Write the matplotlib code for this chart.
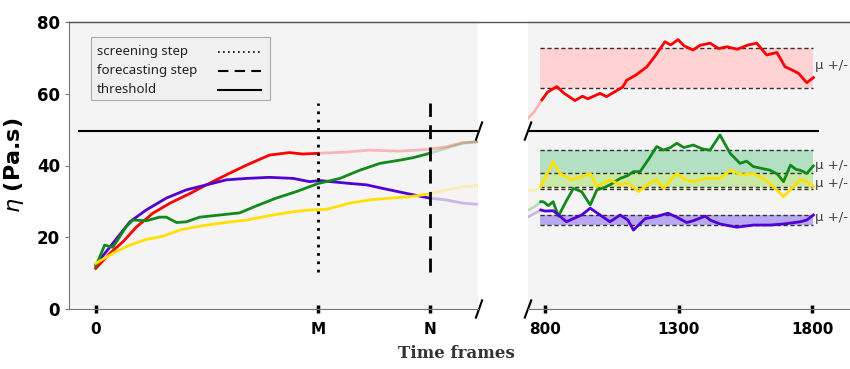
import matplotlib.pyplot as plt
from matplotlib.lines import Line2D
from matplotlib.patches import Rectangle

# left part: time frames (M=300, N=450)
M, N = 300, 450
red_x = [0, 19, 37, 55, 77, 100, 127, 149, 176, 203, 234, 261, 279, 300]
red_y = [11.3, 15.5, 18.8, 22.9, 26.7, 29.5, 32.2, 34.6, 37.4, 40.1, 42.9, 43.6, 43.2, 43.4]
red_fx = [300, 342, 369, 410, 448, 472, 495, 513]
red_fy = [43.4, 43.8, 44.3, 44.0, 44.5, 45.2, 46.4, 46.6]

blue_x = [0, 23, 46, 68, 95, 122, 149, 176, 203, 234, 266, 288, 302, 342, 365, 387, 419, 450]
blue_y = [12.3, 18.3, 24.3, 27.6, 30.9, 33.2, 34.6, 36.0, 36.4, 36.7, 36.4, 35.5, 35.8, 35.0, 34.6, 33.6, 32.2, 30.9]
blue_fx = [450, 472, 495, 513]
blue_fy = [30.9, 30.4, 29.5, 29.2]

green_x = [0, 12, 23, 41, 50, 68, 86, 95, 109, 122, 140, 167, 194, 216, 243, 270, 300,
           329, 356, 383, 410, 428, 450]
green_y = [11.8, 17.8, 17.2, 22.9, 24.8, 24.6, 25.6, 25.6, 24.1, 24.3, 25.6, 26.2, 26.8, 28.7,
           30.9, 32.7, 35.0, 36.4, 38.7, 40.6, 41.5, 42.2, 43.4]
green_fx = [450, 472, 495, 513]
green_fy = [43.4, 44.8, 46.2, 46.6]

yellow_x = [0, 23, 46, 68, 91, 113, 140, 167, 203, 239, 266, 288, 311, 342, 369, 396, 423, 450]
yellow_y = [12.7, 15.5, 17.8, 19.4, 20.3, 22.0, 23.1, 23.9, 24.8, 26.2, 27.1, 27.6, 27.8, 29.5,
            30.4, 30.9, 31.3, 32.1]
yellow_fx = [450, 472, 495, 513]
yellow_fy = [32.1, 33.2, 34.1, 34.4]

# right part: frames 800..1800
r_red_x = [788, 810, 844, 870, 912, 940, 960, 1006, 1030, 1069, 1090, 1106, 1140, 1181, 1210,
           1249, 1270, 1298, 1320, 1354, 1380, 1418, 1450, 1481, 1520, 1560, 1593, 1630, 1668,
           1699, 1720, 1749, 1780, 1805]
r_red_y = [58.3, 60.5, 62.0, 60.2, 58.1, 59.3, 58.6, 60.1, 59.2, 60.9, 61.8, 63.8, 65.2, 67.5,
           70.3, 74.5, 73.6, 75.1, 73.4, 72.2, 73.5, 74.1, 72.6, 73.1, 72.4, 73.6, 74.1, 70.8,
           71.5, 67.5, 66.8, 65.7, 63.1, 64.5]
r_red_fx = [736, 760, 788]
r_red_fy = [53.2, 55.0, 58.3]

r_green_x = [784, 794, 812, 830, 850, 880, 906, 937, 969, 994, 1020, 1043, 1081, 1110, 1131,
             1156, 1190, 1218, 1243, 1270, 1293, 1320, 1355, 1390, 1418, 1455, 1493, 1530,
             1555, 1580, 1610, 1642, 1670, 1693, 1719, 1740, 1755, 1780, 1805]
r_green_y = [29.9, 29.9, 28.8, 29.9, 25.9, 30.2, 33.6, 32.7, 29.0, 33.2, 33.8, 34.6, 36.4,
             37.2, 38.3, 38.3, 42.0, 45.3, 44.3, 45.0, 46.2, 45.0, 45.7, 44.6, 44.3, 48.5,
             43.4, 40.6, 41.2, 39.7, 39.2, 38.7, 37.6, 35.5, 40.1, 38.9, 38.7, 37.8, 39.9]
r_green_fx = [737, 760, 784]
r_green_fy = [27.6, 28.5, 29.9]

r_yellow_x = [784, 808, 830, 855, 900, 940, 969, 994, 1043, 1081, 1110, 1150, 1190, 1218,
              1243, 1270, 1293, 1320, 1355, 1400, 1455, 1493, 1540, 1580, 1620, 1642, 1670,
              1693, 1730, 1755, 1780, 1805]
r_yellow_y = [34.1, 37.8, 41.1, 37.8, 36.0, 37.0, 37.8, 34.1, 36.0, 34.6, 35.2, 32.7, 35.0,
              36.0, 33.6, 36.0, 37.8, 36.2, 35.5, 36.4, 36.4, 38.7, 37.4, 37.8, 36.2, 35.0,
              33.0, 31.3, 34.1, 36.0, 35.5, 34.1]
r_yellow_fx = [737, 760, 784]
r_yellow_fy = [33.2, 33.0, 34.1]

r_blue_x = [784, 800, 830, 850, 880, 906, 937, 969, 1010, 1043, 1081, 1110, 1131, 1175,
            1218, 1260, 1293, 1330, 1355, 1400, 1418, 1455, 1490, 1518, 1580, 1642, 1693,
            1755, 1780, 1805]
r_blue_y = [27.6, 27.3, 27.4, 26.2, 24.3, 25.2, 26.2, 28.1, 26.0, 24.3, 26.2, 24.8, 22.0,
            25.2, 25.8, 26.7, 25.6, 24.1, 24.6, 25.9, 24.8, 23.7, 23.2, 22.8, 23.4, 23.4,
            23.7, 24.3, 24.8, 26.2]
r_blue_fx = [737, 760, 784]
r_blue_fy = [25.7, 26.6, 27.6]

# mean +/- std bands (low, high)
bands = {'red': (61.5, 72.8), 'green': (34.1, 44.3), 'yellow': (33.4, 37.8), 'blue': (23.4, 26.2)}
label_y = {'red': 68.0, 'green': 40.1, 'yellow': 35.1, 'blue': 25.4}
threshold = 49.6
legend_labels = ['screening step', 'forecasting step', 'threshold']

colors = {'red': '#ff0000', 'green': '#12891b', 'yellow': '#ffe000', 'blue': '#5200d4'}
band_colors = {'red': ('#ffd3d3', 1), 'green': ('#b3e0c3', 1), 'yellow': ('#ffff64', 0.3),
               'blue': ('#b8a8f4', 1)}

fig = plt.figure(figsize=(8.5, 3.69), dpi=100)
bg = '#f4f4f4'
ax1 = fig.add_axes([69 / 850, 60 / 369, 409 / 850, 287 / 369], facecolor=bg)
ax2 = fig.add_axes([528 / 850, 60 / 369, 322 / 850, 287 / 369], facecolor=bg)

lw = 2
ax1.plot(red_x, red_y, color=colors['red'], lw=lw)
ax1.plot(red_fx, red_fy, color=colors['red'], lw=lw, alpha=0.25)
ax1.plot(blue_x, blue_y, color=colors['blue'], lw=lw)
ax1.plot(blue_fx, blue_fy, color=colors['blue'], lw=lw, alpha=0.25)
ax1.plot(green_x, green_y, color=colors['green'], lw=lw)
ax1.plot(green_fx, green_fy, color=colors['green'], lw=lw, alpha=0.25)
ax1.plot(yellow_x, yellow_y, color=colors['yellow'], lw=lw)
ax1.plot(yellow_fx, yellow_fy, color=colors['yellow'], lw=lw, alpha=0.25)

ax1.plot([-22, 515], [threshold, threshold], color='black', lw=1.5)
ax1.vlines(M, 10.3, 57.4, colors='black', linestyles=(0, (1, 2)), lw=2)
ax1.vlines(N, 10.3, 57.4, colors='black', linestyles=(0, (5, 3)), lw=2)

ax1.set_xlim(-36, 515)
ax1.set_ylim(0, 80)
ax1.set_xticks([0, M, N], ['0', 'M', 'N'])
ax1.set_yticks([0, 20, 40, 60, 80])

# legend drawn by hand: text left, line sample right
ax1.add_patch(Rectangle((0.054, 0.728), 0.437, 0.22, transform=ax1.transAxes,
                        facecolor='#f0f0f0', edgecolor='#aaaaaa', lw=0.8, zorder=5))
styles = [(0, (1, 2)), (0, (5, 3)), '-']
for i, (lab, ls) in enumerate(zip(legend_labels, styles)):
    yy = 0.8955 - i * 0.0662
    ax1.text(0.0685, yy, lab, transform=ax1.transAxes, fontsize=9.5, family='Noto Sans',
             color='#222222', va='center', ha='left', zorder=6)
    ax1.plot([0.364, 0.469], [yy, yy], transform=ax1.transAxes, color='black', ls=ls,
             lw=1.5 if ls != styles[0] else 1.2, zorder=6)

# right panel
for name, xs, ys, fxs, fys in [('red', r_red_x, r_red_y, r_red_fx, r_red_fy),
                               ('green', r_green_x, r_green_y, r_green_fx, r_green_fy),
                               ('yellow', r_yellow_x, r_yellow_y, r_yellow_fx, r_yellow_fy),
                               ('blue', r_blue_x, r_blue_y, r_blue_fx, r_blue_fy)]:
    lo, hi = bands[name]
    fc, fa = band_colors[name]
    ax2.fill_between([781, 1802], lo, hi, color=fc, alpha=fa, lw=0)
    ax2.hlines([lo, hi], 781, 1802, colors='#333333', linestyles=(0, (3, 2)), lw=1, zorder=3)
    ax2.plot(fxs, fys, color=colors[name], lw=lw, alpha=0.25, zorder=4)
    ax2.plot(xs, ys, color=colors[name], lw=lw, zorder=4)
    ax2.text(1810, label_y[name], 'μ +/- σ', fontsize=9.5, color='#444444', va='center',
             clip_on=False)

ax2.plot([742, 1822], [threshold, threshold], color='black', lw=1.5)
ax2.set_xlim(736, 1942)
ax2.set_ylim(0, 80)
ax2.set_xticks([800, 1300, 1800])
ax2.set_yticks([])

for ax in (ax1, ax2):
    ax.spines['right'].set_visible(False)
    ax.spines['top'].set_color('#555555')
    ax.spines['bottom'].set_color('#777777')
    ax.spines['left'].set_color('#777777')
    ax.tick_params(axis='x', direction='inout', length=6, width=2.5, color='black',
                   labelsize=11, pad=6)
    ax.tick_params(axis='y', length=3, color='#777777', labelsize=12)
    for lab in ax.get_xticklabels() + ax.get_yticklabels():
        lab.set_fontweight('bold')
ax2.spines['left'].set_visible(False)

# top line across the gap
fig.add_artist(Line2D([69 / 850, 1], [347 / 369, 347 / 369], color='#555555', lw=1))

# break marks
bk = dict(color='black', lw=1.5, clip_on=False)
ax1.plot([0.995, 1.01], [-0.03, 0.03], transform=ax1.transAxes, **bk)
ax2.plot([-0.01, 0.01], [-0.03, 0.03], transform=ax2.transAxes, **bk)
ax1.plot([0.995, 1.01], [threshold / 80 - 0.03, threshold / 80 + 0.03], transform=ax1.transAxes, **bk)
ax2.plot([-0.01, 0.01], [threshold / 80 - 0.03, threshold / 80 + 0.03], transform=ax2.transAxes, **bk)

ax1.set_ylabel(r'$\eta$ (Pa.s)', fontsize=16, fontweight='bold')
ax1.yaxis.set_label_coords(-0.105, 0.5)
fig.text(0.537, 0.02, 'Time frames', ha='center', va='bottom', fontsize=12,
         fontweight='bold', family='DejaVu Serif', color='#333333')

fig.savefig('out.png', dpi=100)
